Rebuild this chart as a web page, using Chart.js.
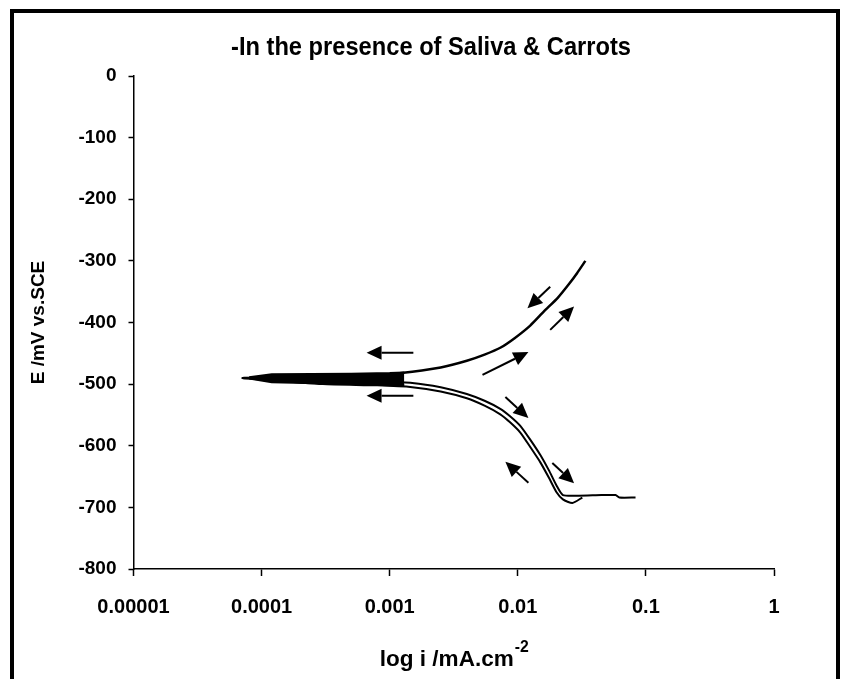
<!DOCTYPE html>
<html>
<head>
<meta charset="utf-8">
<script src="https://cdn.jsdelivr.net/npm/chart.js@4.4.0/dist/chart.umd.min.js"></script>
<style>
  html, body { margin: 0; padding: 0; background: #fff; }
</style>
</head>
<body>
<canvas id="polChart" width="849" height="679"></canvas>
<script>
// --- DATA ---
const chartTitle = "-In the presence of Saliva & Carrots";
const yTitle = "E /mV vs.SCE";
const xTitle = "log i /mA.cm";
const xTitleSup = "-2";

const xTicks = [0.00001, 0.0001, 0.001, 0.01, 0.1, 1];
const xTickLabels = ["0.00001", "0.0001", "0.001", "0.01", "0.1", "1"];
const yTicks = [0, -100, -200, -300, -400, -500, -600, -700, -800];

// anodic branch (single line going up to -300 mV)
const anodicI = [0.000072, 0.0002, 0.0005, 0.001, 0.0015, 0.0025, 0.004, 0.0055, 0.0073, 0.0095, 0.0125, 0.016, 0.0205, 0.025, 0.029, 0.0337];
const anodicE = [-490, -489, -487, -484, -480, -473, -462, -452, -441, -425, -405, -382, -360, -338, -320, -300];

// cathodic branch, forward scan (ends in flat tail)
const cathAI = [0.00007, 0.0003, 0.0008, 0.0015, 0.0025, 0.004, 0.0055, 0.0073, 0.0087, 0.0105, 0.0125, 0.015, 0.0175, 0.02, 0.0225, 0.03, 0.045, 0.058, 0.062, 0.083];
const cathAE = [-490, -494, -496, -498, -505, -516, -527, -540, -552, -568, -590, -615, -640, -664, -680, -681, -680, -680, -684, -684];

// cathodic branch, reverse scan (small dip near 0.027)
const cathBI = [0.00007, 0.0003, 0.0008, 0.0015, 0.0025, 0.004, 0.0055, 0.0073, 0.0087, 0.0105, 0.0125, 0.015, 0.0175, 0.02, 0.0225, 0.0267, 0.0319];
const cathBE = [-490, -500, -502, -505, -512, -523, -535, -549, -562, -579, -602, -627, -652, -675, -687, -693, -684];

// thick overlapping section near Ecorr
const wedgeI = [0.00008, 0.00012, 0.0005, 0.001, 0.0013];
const wedgeTopE = [-489, -484, -483, -482, -481];
const wedgeBotE = [-491, -497, -500, -502, -502];

// scan direction arrows: [i from, E from, i to, E to]
const arrows = [
    [0.00153, -449, 0.00066, -449],
    [0.00153, -519, 0.00066, -519],
    [0.0053, -485, 0.0121, -448],
    [0.0179, -342, 0.0119, -377],
    [0.0179, -412, 0.0275, -374],
    [0.0080, -521, 0.0121, -555],
    [0.0121, -660, 0.0080, -626],
    [0.0186, -628, 0.0275, -661]
];

const toPoints = (xs, ys) => xs.map((x, i) => ({ x: x, y: ys[i] }));

const FONT = "'Liberation Sans', Arial, sans-serif";

function lineSet(label, xs, ys, extra) {
    return Object.assign({
        label: label,
        data: toPoints(xs, ys),
        showLine: true,
        borderColor: '#000',
        borderWidth: 2,
        pointRadius: 0,
        fill: false,
        tension: 0.2
    }, extra || {});
}

// draw text squeezed to a given width (the original uses a narrow face)
function narrowText(ctx, text, x, y, size, width) {
    ctx.save();
    ctx.font = "bold " + size + "px " + FONT;
    const w = ctx.measureText(text).width;
    ctx.translate(x, y);
    ctx.scale(width / w, 1);
    ctx.fillText(text, 0, 0);
    ctx.restore();
}

// --- white page, outer frame and the chart title ---
const framePlugin = {
    id: 'frame',
    beforeDraw(chart) {
        const ctx = chart.ctx;
        ctx.save();
        ctx.fillStyle = '#fff';
        ctx.fillRect(0, 0, chart.width, chart.height);
        ctx.restore();
    },
    afterDraw(chart) {
        const ctx = chart.ctx;
        ctx.save();
        ctx.strokeStyle = '#000';
        ctx.lineWidth = 4;
        ctx.strokeRect(12, 11, 826, 720);
        ctx.fillStyle = '#000';
        ctx.textAlign = 'center';
        ctx.textBaseline = 'middle';
        narrowText(ctx, chartTitle, 431, 48, 25, 400);
        ctx.restore();
    }
};

// --- arrows in data space ---
const arrowPlugin = {
    id: 'arrows',
    afterDatasetsDraw(chart) {
        const ctx = chart.ctx;
        const xs = chart.scales.x, ys = chart.scales.y;
        ctx.save();
        ctx.strokeStyle = '#000';
        ctx.fillStyle = '#000';
        ctx.lineWidth = 2;
        arrows.forEach(a => {
            const x1 = xs.getPixelForValue(a[0]), y1 = ys.getPixelForValue(a[1]);
            const x2 = xs.getPixelForValue(a[2]), y2 = ys.getPixelForValue(a[3]);
            const ang = Math.atan2(y2 - y1, x2 - x1);
            const head = 15, half = 7;
            const bx = x2 - head * Math.cos(ang), by = y2 - head * Math.sin(ang);
            ctx.beginPath();
            ctx.moveTo(x1, y1);
            ctx.lineTo(bx, by);
            ctx.stroke();
            ctx.beginPath();
            ctx.moveTo(x2, y2);
            ctx.lineTo(bx + half * Math.sin(ang), by - half * Math.cos(ang));
            ctx.lineTo(bx - half * Math.sin(ang), by + half * Math.cos(ang));
            ctx.closePath();
            ctx.fill();
        });
        ctx.restore();
    }
};

// --- x axis title with superscript ---
const xTitlePlugin = {
    id: 'xTitleSup',
    afterDraw(chart) {
        const ctx = chart.ctx;
        const area = chart.chartArea;
        ctx.save();
        ctx.fillStyle = '#000';
        ctx.textBaseline = 'alphabetic';
        ctx.textAlign = 'left';
        const w1 = 134, w2 = 14;
        const cx = (area.left + area.right) / 2;
        const x0 = cx - (w1 + w2) / 2;
        const base = 666;
        narrowText(ctx, xTitle, x0, base, 22, w1);
        narrowText(ctx, xTitleSup, x0 + w1 + 1, base - 14, 16, w2);
        ctx.restore();
    }
};

new Chart(document.getElementById('polChart').getContext('2d'), {
    type: 'scatter',
    data: {
        datasets: [
            lineSet('wedge top', wedgeI, wedgeTopE, { fill: '+1', backgroundColor: '#000', tension: 0 }),
            lineSet('wedge bottom', wedgeI, wedgeBotE, { tension: 0 }),
            lineSet('anodic', anodicI, anodicE, { borderWidth: 2.5 }),
            lineSet('cathodic forward', cathAI, cathAE),
            lineSet('cathodic reverse', cathBI, cathBE)
        ]
    },
    options: {
        responsive: false,
        animation: false,
        layout: { padding: { left: 0, top: 76, right: 75, bottom: 0 } },
        plugins: {
            legend: { display: false },
            tooltip: { enabled: false },
            title: { display: false }
        },
        scales: {
            x: {
                type: 'logarithmic',
                min: xTicks[0],
                max: xTicks[xTicks.length - 1],
                afterBuildTicks: s => { s.ticks = xTicks.map(v => ({ value: v })); },
                afterFit: s => { s.height = 110; s.paddingLeft = 0; s.paddingRight = 0; },
                grid: { display: true, drawOnChartArea: false, color: '#000', tickLength: 7, tickWidth: 1.5 },
                border: { display: true, color: '#000', width: 1.5 },
                ticks: {
                    color: '#000',
                    padding: 19,
                    autoSkip: false,
                    maxRotation: 0,
                    font: { family: FONT, size: 20, weight: 'bold' },
                    callback: (v, i) => xTickLabels[i]
                }
            },
            y: {
                type: 'linear',
                min: yTicks[yTicks.length - 1],
                max: yTicks[0],
                afterBuildTicks: s => { s.ticks = yTicks.map(v => ({ value: v })); },
                afterFit: s => { s.width = 133.5; s.paddingTop = 0; s.paddingBottom = 0; },
                grid: { display: true, drawOnChartArea: false, color: '#000', tickLength: 5, tickWidth: 1.5 },
                border: { display: true, color: '#000', width: 1.5 },
                title: {
                    display: true,
                    text: yTitle,
                    color: '#000',
                    font: { family: FONT, size: 19, weight: 'bold' },
                    padding: { top: 27, bottom: 0 }
                },
                ticks: {
                    color: '#000',
                    padding: 12,
                    font: { family: FONT, size: 19, weight: 'bold' },
                    callback: v => String(v)
                }
            }
        }
    },
    plugins: [framePlugin, arrowPlugin, xTitlePlugin]
});
</script>
</body>
</html>
